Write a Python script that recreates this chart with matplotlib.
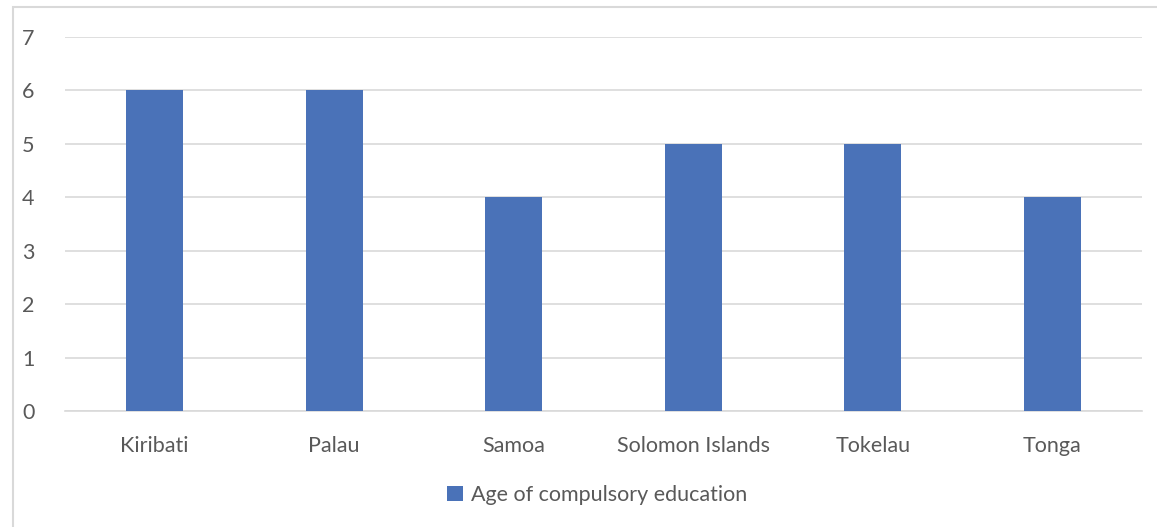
import matplotlib
matplotlib.use("Agg")
import matplotlib.pyplot as plt
from matplotlib.patches import Rectangle

countries = ["Kiribati", "Palau", "Samoa", "Solomon Islands", "Tokelau", "Tonga"]
ages = [6, 6, 4, 5, 5, 4]
series_name = "Age of compulsory education"

plt.rcParams['font.family'] = ['Lato', 'DejaVu Sans']

fig = plt.figure(figsize=(11.57, 5.27), dpi=100)
# chart border
fig.patches.append(Rectangle((13/1157, -0.1), 1.2, 1 - 7/527 + 0.1, transform=fig.transFigure,
                             fill=False, edgecolor="#d9d9d9", linewidth=1.5, zorder=0))

ax = fig.add_axes([65/1157, 1 - 411/527, (1142 - 65)/1157, (411 - 37)/527])
x = range(len(countries))
ax.bar(x, ages, width=0.315, color="#4a72b8", zorder=3, label=series_name)
ax.set_ylim(0, 7)
ax.set_xlim(-0.5, len(countries) - 0.5)
ax.set_yticks(range(0, 8))
ax.set_xticks(list(x))
ax.set_xticklabels(countries)
ax.grid(axis="y", color="#d9d9d9", linewidth=1.2, zorder=0)
for s in ["top", "right", "left"]:
    ax.spines[s].set_visible(False)
ax.spines["bottom"].set_color("#d9d9d9")
ax.spines["bottom"].set_linewidth(1.2)
ax.tick_params(axis="both", length=0, labelsize=15.5, colors="#595959")
ax.tick_params(axis="y", pad=22)
ax.tick_params(axis="x", pad=18)

leg = fig.legend(loc="center", bbox_to_anchor=(597/1157, 1 - 495/527), frameon=False,
                 fontsize=15.5, handlelength=0.75, handleheight=0.75, handletextpad=0.35)
for t in leg.get_texts():
    t.set_color("#595959")

fig.savefig("out.png", dpi=100)
